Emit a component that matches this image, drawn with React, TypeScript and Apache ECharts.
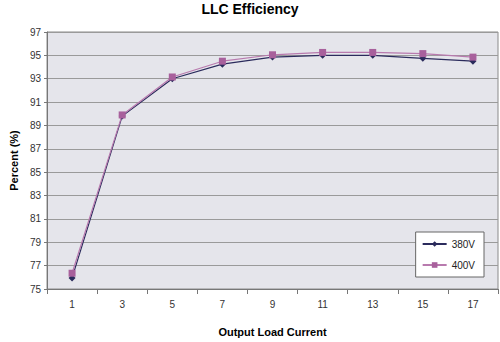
import React, { useEffect, useRef } from "react";
import * as echarts from "echarts";

const categories = ["1", "3", "5", "7", "9", "11", "13", "15", "17"];
const series380 = [75.95, 89.8, 93.0, 94.25, 94.85, 95.0, 95.0, 94.75, 94.5];
const series400 = [76.35, 89.9, 93.15, 94.5, 95.05, 95.25, 95.25, 95.15, 94.85];
const yTicks = [75, 77, 79, 81, 83, 85, 87, 89, 91, 93, 95, 97];

export default function App() {
  const ref = useRef<HTMLDivElement>(null);
  useEffect(() => {
    if (!ref.current) return;
    const chart = echarts.init(ref.current, undefined, { renderer: "svg" });
    const font = "Liberation Sans, Arial, sans-serif";
    chart.setOption({
      animation: false,
      backgroundColor: "#ffffff",
      textStyle: { fontFamily: font },
      title: {
        text: "LLC Efficiency",
        left: "center",
        top: -3,
        textStyle: { fontSize: 14, fontWeight: "bold", color: "#000", fontFamily: font },
      },
      grid: {
        left: 35,
        right: 2,
        top: 32,
        bottom: 49,
        show: true,
        backgroundColor: "#e5e5eb",
        borderColor: "#8a8a8a",
        borderWidth: 1,
      },
      legend: {
        orient: "vertical",
        right: 16,
        top: 232,
        backgroundColor: "#ffffff",
        borderColor: "#666",
        borderWidth: 1,
        borderRadius: 0,
        padding: [7, 9, 7, 6],
        itemGap: 11,
        itemWidth: 24,
        itemHeight: 7,
        textStyle: { fontSize: 10, color: "#222", fontFamily: font },
        data: ["380V", "400V"],
      },
      xAxis: {
        type: "category",
        data: categories,
        boundaryGap: true,
        name: "Output Load Current",
        nameLocation: "middle",
        nameGap: 37,
        nameTextStyle: { fontSize: 11, fontWeight: "bold", color: "#000", fontFamily: font },
        axisLine: { lineStyle: { color: "#777" } },
        axisTick: { show: true, length: 5, lineStyle: { color: "#777" } },
        axisLabel: { fontSize: 10, color: "#333", margin: 10 },
        splitLine: { show: false },
      },
      yAxis: {
        type: "value",
        min: 75,
        max: 97,
        interval: 2,
        name: "Percent (%)",
        nameLocation: "middle",
        nameGap: 27,
        nameRotate: 90,
        nameTextStyle: { fontSize: 11, fontWeight: "bold", color: "#000", fontFamily: font },
        axisLine: { show: true, lineStyle: { color: "#777" } },
        axisTick: { show: true, length: 3, lineStyle: { color: "#777" }, customValues: yTicks },
        axisLabel: { fontSize: 10, color: "#333", margin: 6, customValues: yTicks },
        splitLine: { show: true, lineStyle: { color: "#9a9a9a", width: 1 } },
      },
      series: [
        {
          name: "380V",
          type: "line",
          data: series380,
          symbol: "diamond",
          symbolSize: 7,
          color: "#2b2b5c",
          lineStyle: { width: 1.2, color: "#2b2b5c" },
          itemStyle: { color: "#2b2b5c" },
        },
        {
          name: "400V",
          type: "line",
          data: series400,
          symbol: "rect",
          symbolSize: 7,
          color: "#a8609c",
          lineStyle: { width: 1.2, color: "#b87aae" },
          itemStyle: { color: "#a8609c" },
        },
      ],
    });
    return () => chart.dispose();
  }, []);
  return (
    <div
      ref={ref}
      style={{ position: "absolute", left: 0, top: 0, width: 500, height: 342 }}
    />
  );
}
